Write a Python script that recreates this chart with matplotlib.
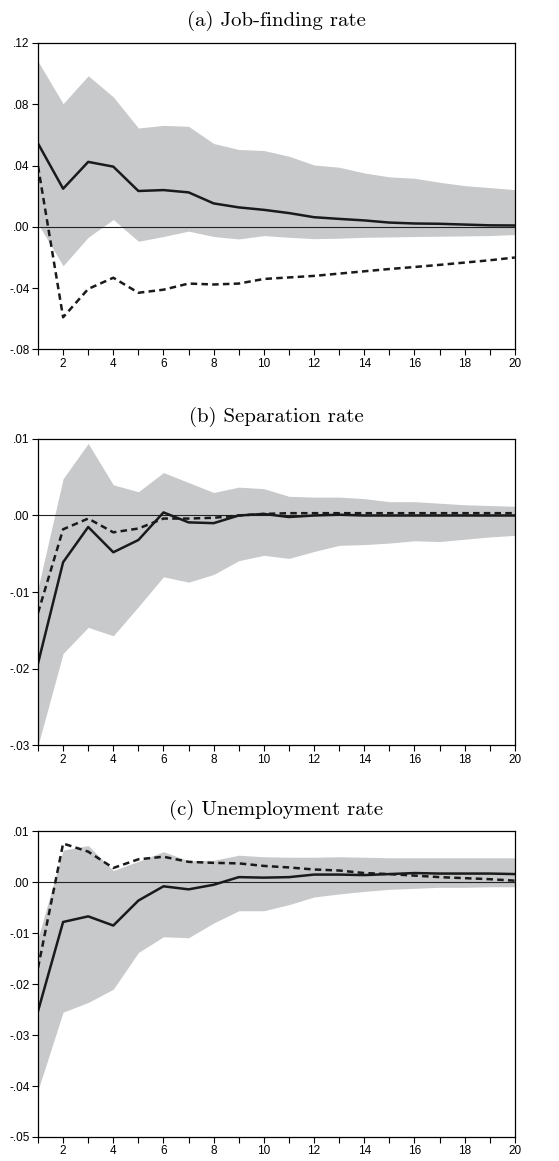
import numpy as np
import matplotlib
matplotlib.use("Agg")
import matplotlib.pyplot as plt
from matplotlib.ticker import FixedLocator

periods = np.arange(1, 21)

# (a) Job-finding rate
jf_resp = [.0544, .0249, .0424, .0393, .0234, .0240, .0225, .0153, .0127, .0111,
           .0090, .0063, .0052, .0042, .0028, .0022, .0020, .0015, .0010, .0009]
jf_upper = [.108, .0804, .0986, .0848, .0645, .0662, .0656, .0544, .0505, .0498,
            .0461, .0404, .0389, .0352, .0326, .0317, .0291, .0269, .0256, .0243]
jf_lower = [.0020, -.0254, -.0068, .0048, -.0094, -.0063, -.0028, -.0063, -.0079, -.0057,
            -.0068, -.0077, -.0074, -.0068, -.0066, -.0063, -.0061, -.0059, -.0057, -.0050]
jf_alt = [.0396, -.0590, -.0405, -.0332, -.0430, -.0410, -.0370, -.0376, -.0370, -.0340,
          -.0330, -.0320, -.0305, -.0290, -.0275, -.0262, -.0248, -.0233, -.0218, -.0200]

# (b) Separation rate
sep_resp = [-.0193, -.0061, -.0015, -.0048, -.0032, .0004, -.0009, -.0010, .0000, .0002,
            -.0002, .0000, .0001, .0000, .0000, .0000, .0000, .0000, .0000, .0000]
sep_upper = [-.0095, .0048, .0094, .0040, .0031, .0056, .0043, .0030, .0037, .0035,
             .0025, .0024, .0024, .0022, .0018, .0018, .0016, .0014, .0013, .0012]
sep_lower = [-.0300, -.0180, -.0146, -.0157, -.0119, -.0080, -.0087, -.0077, -.0059, -.0052,
             -.0056, -.0047, -.0039, -.0038, -.0036, -.0033, -.0034, -.0031, -.0028, -.0026]
sep_alt = [-.0127, -.0018, -.0004, -.0022, -.0017, -.0004, -.0004, -.0003, .0000, .0002,
           .0003, .0003, .0003, .0003, .0003, .0003, .0003, .0003, .0003, .0003]

# (c) Unemployment rate
ur_resp = [-.0253, -.0078, -.0067, -.0085, -.0036, -.0008, -.0014, -.0005, .0010, .0009,
           .0010, .0015, .0015, .0014, .0016, .0018, .0017, .0017, .0017, .0016]
ur_upper = [-.0110, .0063, .0072, .0023, .0041, .0060, .0042, .0043, .0053, .0050,
            .0049, .0049, .0050, .0049, .0048, .0048, .0048, .0048, .0048, .0048]
ur_lower = [-.0408, -.0255, -.0236, -.0210, -.0138, -.0107, -.0109, -.0080, -.0056, -.0056,
            -.0044, -.0029, -.0023, -.0018, -.0014, -.0012, -.0010, -.0010, -.0009, -.0009]
ur_alt = [-.0168, .0076, .0060, .0028, .0045, .0050, .0040, .0038, .0037, .0032,
          .0029, .0025, .0023, .0018, .0016, .0013, .0010, .0008, .0006, .0003]

panels = [
    ("(a) Job-finding rate", jf_resp, jf_upper, jf_lower, jf_alt,
     [.12, .08, .04, .00, -.04, -.08], [".12", ".08", ".04", ".00", "-.04", "-.08"]),
    ("(b) Separation rate", sep_resp, sep_upper, sep_lower, sep_alt,
     [.01, .00, -.01, -.02, -.03], [".01", ".00", "-.01", "-.02", "-.03"]),
    ("(c) Unemployment rate", ur_resp, ur_upper, ur_lower, ur_alt,
     [.01, .00, -.01, -.02, -.03, -.04, -.05], [".01", ".00", "-.01", "-.02", "-.03", "-.04", "-.05"]),
]

# axes boxes in figure coordinates: left, bottom, width, height
boxes = [
    [0.068, 0.699, 0.853, 0.264],
    [0.068, 0.358, 0.853, 0.264],
    [0.068, 0.0207, 0.853, 0.2633],
]

fig = plt.figure(figsize=(5.59, 11.61), dpi=100)

for box, (title, resp, upper, lower, alt, yt, ytl) in zip(boxes, panels):
    ax = fig.add_axes(box)
    ax.fill_between(periods, lower, upper, color="#c8c9cb", linewidth=0)
    ax.axhline(0, color="#222222", linewidth=0.8)
    ax.plot(periods, resp, color="#1a1a1a", linewidth=1.8)
    ax.plot(periods, alt, color="#1a1a1a", linewidth=1.8, linestyle=(0, (2.6, 1.7)))

    ax.set_xlim(1, 20)
    ax.set_ylim(yt[-1], yt[0])
    ax.xaxis.set_major_locator(FixedLocator(np.arange(2, 21, 2)))
    ax.xaxis.set_minor_locator(FixedLocator(np.arange(1, 21, 2)))
    ax.set_yticks(yt)
    ax.set_yticklabels(ytl)
    ax.tick_params(axis="both", which="both", direction="out", length=4, width=0.8,
                   labelsize=8.5, colors="black", pad=2)
    for lab in ax.get_xticklabels() + ax.get_yticklabels():
        lab.set_fontfamily("Liberation Sans")
    for s in ax.spines.values():
        s.set_linewidth(0.9)
    ax.set_title(title, fontfamily="cmr10", fontsize=15, pad=12)

fig.savefig("out.png", dpi=100)
